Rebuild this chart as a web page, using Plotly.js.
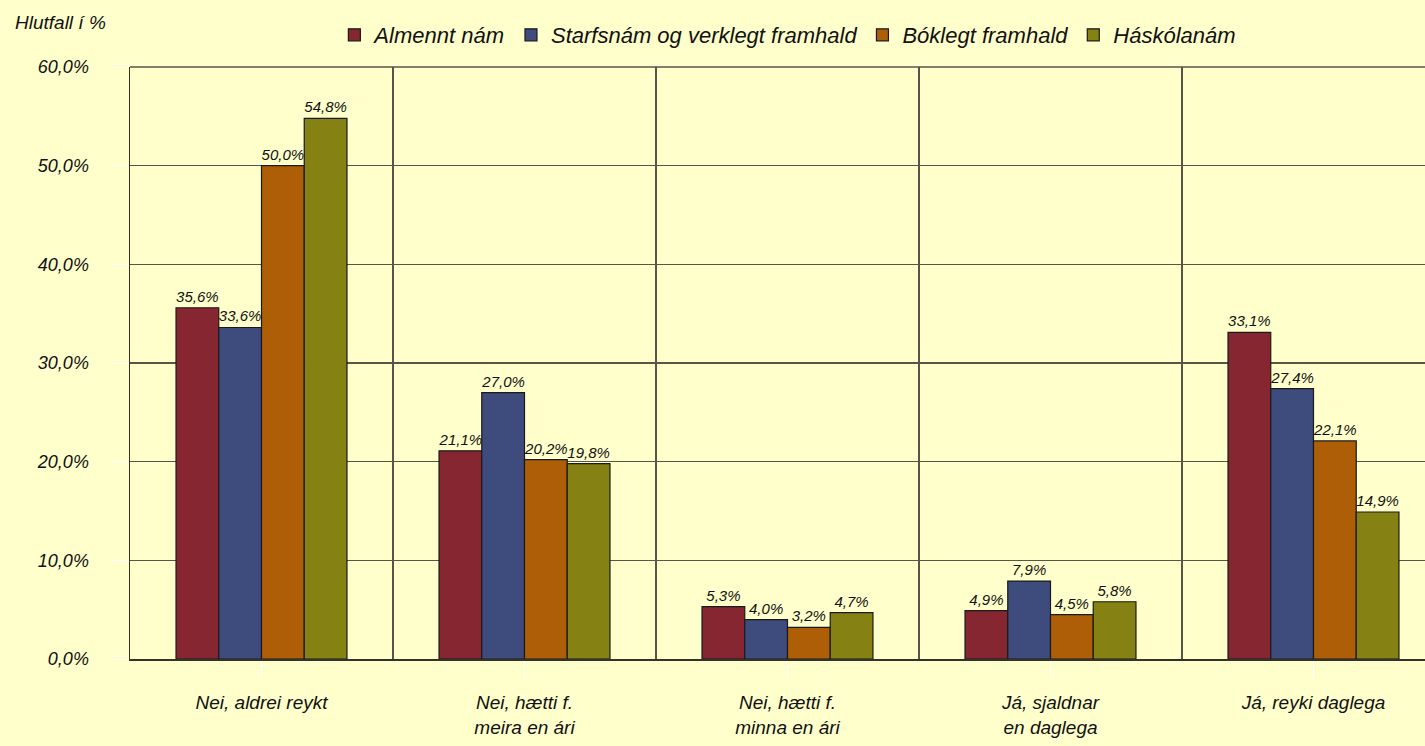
<!DOCTYPE html>
<html>
<head>
<meta charset="utf-8">
<script src="https://cdn.plot.ly/plotly-3.0.1.min.js"></script>
<style>
  html, body { margin: 0; padding: 0; background: #FFFFCC; }
  #chart { width: 1425px; height: 746px; }
</style>
</head>
<body>
<div id="chart"></div>
<script>
const categories = [
  "Nei, aldrei reykt",
  "Nei, hætti f.<br>meira en ári",
  "Nei, hætti f.<br>minna en ári",
  "Já, sjaldnar<br>en daglega",
  "Já, reyki daglega"
];
const seriesNames = ["Almennt nám", "Starfsnám og verklegt framhald", "Bóklegt framhald", "Háskólanám"];
const almennt = [35.6, 21.1, 5.3, 4.9, 33.1];
const starfsnam = [33.6, 27.0, 4.0, 7.9, 27.4];
const boklegt = [50.0, 20.2, 3.2, 4.5, 22.1];
const haskola = [54.8, 19.8, 4.7, 5.8, 14.9];
const yTickVals = [0, 10, 20, 30, 40, 50, 60];

const colors = ["#852630", "#3E4B7D", "#AD5E06", "#858112"];
const values = [almennt, starfsnam, boklegt, haskola];
const idx = categories.map((c, i) => i);

const font = "Liberation Sans, Arial, sans-serif";

const traces = values.map((v, k) => ({
  type: "bar",
  name: seriesNames[k],
  x: idx,
  y: v,
  marker: { color: colors[k], line: { color: "#1a1a1a", width: 1.2 } },
  text: v.map(d => d.toFixed(1).replace(".", ",") + "%"),
  textposition: "outside",
  constraintext: "none",
  textfont: { family: font, size: 15, color: "#111", style: "italic" },
  cliponaxis: false,
  hoverinfo: "skip"
}));

const layout = {
  width: 1425, height: 746,
  paper_bgcolor: "#FFFFCC",
  plot_bgcolor: "#FFFFCC",
  margin: { l: 130, r: 0, t: 67, b: 87 },
  separators: ", ",
  barmode: "group",
  bargap: 0.35,
  bargroupgap: 0,
  font: { family: font, color: "#111" },
  showlegend: true,
  legend: {
    orientation: "h",
    x: 0.508, xanchor: "center",
    y: 1.054, yanchor: "middle",
    font: { family: font, size: 22, color: "#111", style: "italic" },
    bgcolor: "rgba(0,0,0,0)",
    itemwidth: 30,
    traceorder: "normal"
  },
  xaxis: {
    type: "linear",
    range: [-0.5, 4.424],
    tickmode: "array",
    tickvals: idx,
    ticktext: categories,
    ticks: "outside",
    ticklen: 18,
    tickwidth: 1,
    tickcolor: "#ffffff",
    ticklabelstandoff: 8,
    tickfont: { family: font, size: 19, color: "#111", style: "italic" },
    showgrid: false,
    zeroline: false,
    showline: true,
    linecolor: "#33332a",
    linewidth: 1.5,
    fixedrange: true
  },
  xaxis2: {
    overlaying: "x",
    type: "linear",
    range: [-0.5, 4.424],
    tickmode: "linear",
    tick0: -0.5,
    dtick: 1,
    showgrid: true,
    gridcolor: "#55554a",
    gridwidth: 1.5,
    showticklabels: false,
    ticks: "",
    zeroline: false,
    showline: false,
    layer: "below traces"
  },
  yaxis: {
    range: [0, 60],
    tickmode: "array",
    tickvals: yTickVals,
    ticktext: yTickVals.map(v => v.toFixed(1).replace(".", ",") + "%"),
    ticks: "outside",
    ticklen: 18,
    tickcolor: "#ffffff",
    ticklabelstandoff: 18,
    tickfont: { family: font, size: 18, color: "#111", style: "italic" },
    showgrid: true,
    gridcolor: "#55554a",
    gridwidth: 1.5,
    zeroline: false,
    showline: true,
    linecolor: "#33332a",
    linewidth: 1.5,
    fixedrange: true
  },
  shapes: [{
    type: "line", xref: "paper", yref: "paper",
    x0: 0, x1: 1, y0: 1, y1: 1,
    line: { color: "#55554a", width: 1.5 }
  }],
  annotations: [{
    text: "Hlutfall í %",
    xref: "paper", yref: "paper",
    x: -0.054, y: 1.076,
    xanchor: "center", yanchor: "middle",
    showarrow: false,
    font: { family: font, size: 19, color: "#111", style: "italic" }
  }]
};

// invisible helper trace so that xaxis2 (category boundary gridlines) is drawn
traces.push({
  type: "scatter", x: [0], y: [0], xaxis: "x2", yaxis: "y",
  mode: "markers", marker: { opacity: 0 }, showlegend: false, hoverinfo: "skip"
});

Plotly.newPlot("chart", traces, layout, { displayModeBar: false, staticPlot: true });
</script>
</body>
</html>
